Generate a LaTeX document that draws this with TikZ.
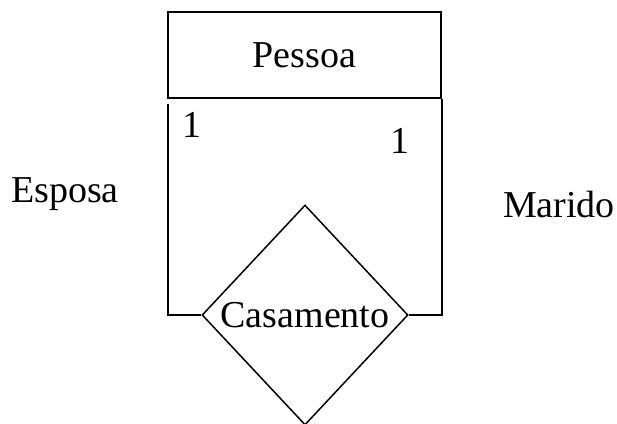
\documentclass[tikz,border=0pt]{standalone}
\usepackage{fontspec}
\setmainfont{Liberation Serif}
\usetikzlibrary{shapes.geometric}
\begin{document}
\begin{tikzpicture}[x=1pt,y=-1pt,
  every node/.style={font=\fontsize{38}{40}\selectfont, inner sep=0pt},
  entity/.style={draw, line width=1.8pt, minimum width=273pt, minimum height=86pt},
  relation/.style={draw, diamond, line width=1.5pt, minimum width=206pt, minimum height=220pt},
  link/.style={line width=1.7pt},
  lbl/.style={anchor=base}]
\useasboundingbox (0,0) rectangle (617,423);
\node[entity] (pessoa) at (304.5,55) {Pessoa};
\node[relation] (cas) at (305,315) {Casamento};
\coordinate (lstart) at (168,104);
\draw[link] (lstart) |- (cas.west);
\draw[link] (pessoa.south east) |- (cas.east);
\node[lbl] (one1) at (192,137) {1};
\node[lbl] (one2) at (400,153) {1};
\node[lbl] (esposa) at (65,202) {Esposa};
\node[lbl] (marido) at (559,217) {Marido};
\end{tikzpicture}
\end{document}
